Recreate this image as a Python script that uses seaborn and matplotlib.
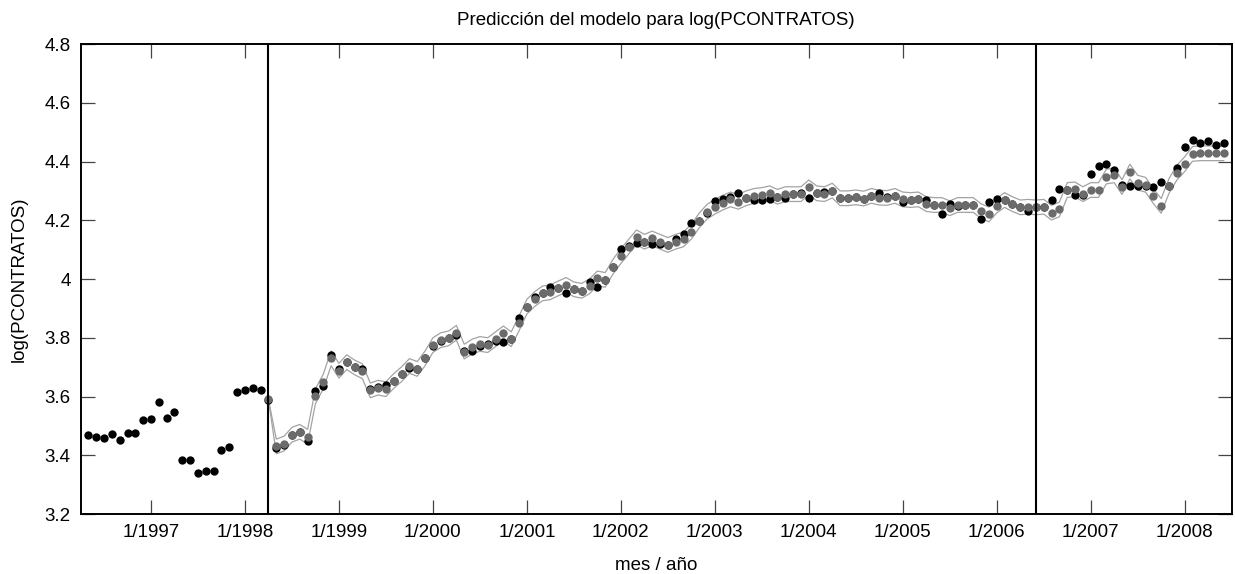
import numpy as np
import pandas as pd
import matplotlib
matplotlib.use("Agg")
import matplotlib.pyplot as plt
from matplotlib.ticker import FuncFormatter
import seaborn as sns

# ---------------- data ----------------
start_year, start_month = 1996, 5          # first observation: 5/1996

observed = [
    3.468, 3.462, 3.458, 3.472, 3.453, 3.477, 3.477, 3.519, 3.523, 3.580,
    3.528, 3.547, 3.383, 3.383, 3.341, 3.346, 3.346, 3.417, 3.429, 3.616,
    3.621, 3.628, 3.622, 3.589, 3.425, 3.435, 3.468, 3.478, 3.448, 3.618,
    3.636, 3.741, 3.695, 3.716, 3.702, 3.694, 3.627, 3.632, 3.638, 3.652,
    3.676, 3.696, 3.694, 3.730, 3.773, 3.790, 3.798, 3.809, 3.756, 3.756,
    3.772, 3.780, 3.790, 3.786, 3.797, 3.866, 3.906, 3.940, 3.951, 3.974,
    3.968, 3.953, 3.965, 3.960, 3.989, 3.974, 3.997, 4.040, 4.101, 4.112,
    4.121, 4.127, 4.118, 4.118, 4.116, 4.136, 4.153, 4.190, 4.197, 4.226,
    4.266, 4.271, 4.280, 4.292, 4.276, 4.269, 4.268, 4.272, 4.280, 4.276,
    4.289, 4.294, 4.277, 4.292, 4.297, 4.299, 4.275, 4.275, 4.278, 4.272,
    4.283, 4.294, 4.278, 4.283, 4.261, 4.269, 4.271, 4.269, 4.251, 4.221,
    4.254, 4.250, 4.252, 4.252, 4.203, 4.263, 4.271, 4.269, 4.254, 4.244,
    4.232, 4.244, 4.246, 4.269, 4.305, 4.303, 4.286, 4.287, 4.357, 4.385,
    4.391, 4.372, 4.320, 4.316, 4.318, 4.318, 4.314, 4.330, 4.317, 4.377,
    4.451, 4.473, 4.464, 4.470, 4.456, 4.464,
]

pred_start_offset = 23                     # prediction starts at 4/1998
predicted = [
    3.590, 3.430, 3.440, 3.470, 3.480, 3.463, 3.601, 3.651, 3.730, 3.688,
    3.717, 3.699, 3.686, 3.621, 3.630, 3.625, 3.653, 3.676, 3.704, 3.694,
    3.730, 3.775, 3.792, 3.798, 3.817, 3.753, 3.770, 3.779, 3.775, 3.795,
    3.815, 3.795, 3.849, 3.906, 3.932, 3.951, 3.955, 3.968, 3.980, 3.965,
    3.960, 3.975, 4.002, 3.997, 4.042, 4.078, 4.110, 4.142, 4.127, 4.138,
    4.127, 4.116, 4.127, 4.135, 4.161, 4.199, 4.229, 4.246, 4.260, 4.271,
    4.263, 4.275, 4.283, 4.286, 4.292, 4.280, 4.289, 4.289, 4.289, 4.312,
    4.292, 4.289, 4.301, 4.275, 4.275, 4.278, 4.274, 4.283, 4.277, 4.276,
    4.283, 4.271, 4.269, 4.271, 4.255, 4.252, 4.252, 4.241, 4.252, 4.252,
    4.252, 4.231, 4.220, 4.250, 4.269, 4.255, 4.244, 4.246, 4.244, 4.246,
    4.226, 4.237, 4.303, 4.305, 4.289, 4.303, 4.303, 4.349, 4.353, 4.313,
    4.366, 4.328, 4.321, 4.282, 4.249, 4.317, 4.362, 4.391, 4.426, 4.428,
    4.428, 4.428, 4.428,
]

# half-width of the interval band (zero at the first predicted month)
band_halfwidth_first = 0.0
band_halfwidth = 0.025

vline_dates = [(1998, 4), (2006, 6)]
tick_years = list(range(1997, 2009))
y_ticks = [3.2, 3.4, 3.6, 3.8, 4.0, 4.2, 4.4, 4.6, 4.8]

title = "Predicción del modelo para log(PCONTRATOS)"
xlabel = "mes / año"
ylabel = "log(PCONTRATOS)"

# ---------------- frames ----------------
def to_x(year, month):
    return year + (month - 1) / 12.0

def offset_to_x(i):
    return to_x(start_year, start_month) + i / 12.0

obs_df = pd.DataFrame({"x": [offset_to_x(i) for i in range(len(observed))],
                       "y": observed})
pred_x = [offset_to_x(pred_start_offset + i) for i in range(len(predicted))]
half = [band_halfwidth_first] + [band_halfwidth] * (len(predicted) - 1)
pred_df = pd.DataFrame({"x": pred_x, "y": predicted})
band_df = pd.concat([
    pd.DataFrame({"x": pred_x, "y": np.array(predicted) + np.array(half), "b": "upper"}),
    pd.DataFrame({"x": pred_x, "y": np.array(predicted) - np.array(half), "b": "lower"}),
])

# ---------------- plot ----------------
sns.set_theme(style="white")
plt.rcParams["font.family"] = ["Liberation Sans", "DejaVu Sans"]
plt.rcParams["text.color"] = "black"
plt.rcParams["axes.labelcolor"] = "black"
plt.rcParams["xtick.color"] = "black"
plt.rcParams["ytick.color"] = "black"

fig = plt.figure(figsize=(12.35, 5.74), dpi=100)
ax = fig.add_axes([0.0652, 0.1045, 0.9321, 0.8188])

sns.lineplot(data=band_df, x="x", y="y", units="b", estimator=None,
             color="#a3a3a3", linewidth=0.9, ax=ax, legend=False)
sns.scatterplot(data=obs_df, x="x", y="y", color="black", s=36,
                linewidth=0, ax=ax, legend=False, zorder=3)
sns.scatterplot(data=pred_df, x="x", y="y", color="#6b6b6b", s=36,
                linewidth=0, ax=ax, legend=False, zorder=4)

for (yy, mm) in vline_dates:
    ax.axvline(to_x(yy, mm), color="black", linewidth=1.5, zorder=5)

ax.set_xlim(to_x(start_year, start_month) - 1 / 12.0,
            offset_to_x(len(observed)))
ax.set_ylim(3.2, 4.8)
ax.set_xticks([to_x(y, 1) for y in tick_years])
ax.set_xticklabels([f"1/{y}" for y in tick_years])
ax.set_yticks(y_ticks)
ax.yaxis.set_major_formatter(FuncFormatter(lambda v, p: f"{v:g}"))

ax.tick_params(axis="both", direction="in", length=10, width=0.9,
               color="#444444", labelsize=13.5, labelcolor="black",
               top=True, right=True, bottom=True, left=True, pad=7)
for s in ax.spines.values():
    s.set_color("black")
    s.set_linewidth(1.4)

ax.set_title(title, fontsize=13.5, pad=14, color="black")
ax.set_xlabel(xlabel, fontsize=13.5, labelpad=12, color="black")
ax.set_ylabel(ylabel, fontsize=13.5, labelpad=12, color="black")

fig.savefig("out.png", dpi=100)
